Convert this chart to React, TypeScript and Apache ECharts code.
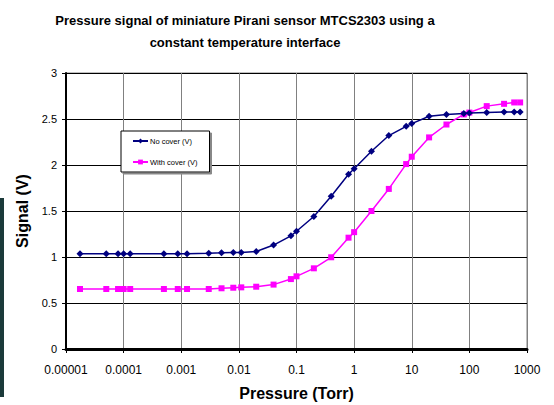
import React, { useEffect, useRef } from "react";
import * as echarts from "echarts";

const pressures = [
  1.75e-5, 5e-5, 8e-5, 1e-4, 1.3e-4, 5e-4, 8.7e-4, 1.26e-3, 3e-3, 5e-3, 8e-3, 1.1e-2,
  2e-2, 4e-2, 8e-2, 0.1, 0.2, 0.4, 0.8, 1, 2, 4, 8, 10, 20, 40, 80, 100, 200, 400, 600, 760,
];
const noCover = [
  1.035, 1.035, 1.035, 1.035, 1.035, 1.035, 1.035, 1.035, 1.04, 1.045, 1.05, 1.05,
  1.06, 1.13, 1.23, 1.28, 1.44, 1.66, 1.9, 1.96, 2.15, 2.32, 2.42, 2.45, 2.53, 2.55, 2.56, 2.565, 2.57, 2.575, 2.575, 2.575,
];
const withCover = [
  0.652, 0.652, 0.652, 0.652, 0.652, 0.652, 0.652, 0.652, 0.652, 0.66, 0.666, 0.67,
  0.677, 0.7, 0.76, 0.79, 0.877, 0.997, 1.21, 1.27, 1.5, 1.74, 2.01, 2.09, 2.3, 2.44, 2.55, 2.57, 2.64, 2.665, 2.68, 2.68,
];
const xTickValues = [1e-5, 1e-4, 1e-3, 1e-2, 0.1, 1, 10, 100, 1000];
const xTickLabels = ["0.00001", "0.0001", "0.001", "0.01", "0.1", "1", "10", "100", "1000"];
const seriesNames = ["No cover (V)", "With cover (V)"];

export default function App() {
  const ref = useRef<HTMLDivElement>(null);
  useEffect(() => {
    const chart = echarts.init(ref.current!, null, { renderer: "svg" });
    const fmtX = (v: number) => {
      const e = Math.round(Math.log10(v));
      const i = xTickValues.findIndex((t) => Math.round(Math.log10(t)) === e);
      return i >= 0 ? xTickLabels[i] : "";
    };
    const font = "Liberation Sans, Arial, sans-serif";
    chart.setOption({
      animation: false,
      backgroundColor: "#ffffff",
      textStyle: { fontFamily: font },
      title: {
        text: "Pressure signal of miniature Pirani sensor MTCS2303 using a\nconstant temperature interface",
        left: 240,
        top: 4,
        textAlign: "center",
        textStyle: { fontSize: 13, fontWeight: "bold", color: "#000", lineHeight: 22, fontFamily: font },
      },
      graphic: [
        { type: "rect", shape: { x: 0, y: 198, width: 4, height: 199 }, style: { fill: "#1b3a3a" } },
      ],
      legend: {
        data: seriesNames,
        orient: "vertical",
        left: 121,
        top: 131,
        padding: [6, 12, 6, 11],
        itemGap: 13,
        itemWidth: 15,
        itemHeight: 6,
        backgroundColor: "#fff",
        borderColor: "#000",
        borderWidth: 1,
        shadowColor: "#888",
        shadowBlur: 0,
        shadowOffsetX: 2,
        shadowOffsetY: 2,
        textStyle: { fontSize: 7.5, color: "#000", padding: [0, 0, 0, -3] },
        z: 100,
      },
      grid: {
        left: 66,
        right: 27,
        top: 73,
        bottom: 56,
        show: true,
        borderColor: "#808080",
        borderWidth: 1,
        containLabel: false,
        outerBoundsMode: "none",
      },
      xAxis: {
        type: "log",
        logBase: 10,
        min: 1e-5,
        max: 1000,
        name: "Pressure (Torr)",
        nameLocation: "middle",
        nameGap: 36,
        nameTextStyle: { fontSize: 16, fontWeight: "bold", color: "#000" },
        axisLine: { onZero: false, lineStyle: { color: "#000", width: 3 } },
        axisTick: { show: true, length: 4, lineStyle: { color: "#000", width: 1 } },
        axisLabel: { formatter: fmtX, fontSize: 12, color: "#000", margin: 15, alignMinLabel: "center", alignMaxLabel: "center" },
        splitLine: { show: true, lineStyle: { color: "#808080", width: 1 } },
        minorTick: { show: false },
      },
      yAxis: {
        type: "value",
        min: 0,
        max: 3,
        interval: 0.5,
        name: "Signal (V)",
        nameLocation: "middle",
        nameGap: 32,
        nameTextStyle: { fontSize: 16, fontWeight: "bold", color: "#000" },
        axisLine: { show: true, lineStyle: { color: "#000", width: 2 } },
        axisTick: { show: true, length: 4, lineStyle: { color: "#000" } },
        axisLabel: { fontSize: 11, color: "#000", margin: 9 },
        splitLine: { show: true, lineStyle: { color: "#000", width: 1 } },
      },
      series: [
        {
          name: seriesNames[0],
          type: "line",
          data: pressures.map((p, i) => [p, noCover[i]]),
          symbol: "diamond",
          symbolSize: 7,
          color: "#000080",
          lineStyle: { width: 1.5, color: "#000080" },
          itemStyle: { color: "#000080" },
          z: 3,
        },
        {
          name: seriesNames[1],
          type: "line",
          data: pressures.map((p, i) => [p, withCover[i]]),
          symbol: "rect",
          symbolSize: 6,
          color: "#ff00ff",
          lineStyle: { width: 1.5, color: "#ff00ff" },
          itemStyle: { color: "#ff00ff" },
          z: 2,
        },
      ],
    });
    return () => chart.dispose();
  }, []);
  return <div ref={ref} style={{ width: 554, height: 405, position: "fixed", left: 0, top: 0 }} />;
}
